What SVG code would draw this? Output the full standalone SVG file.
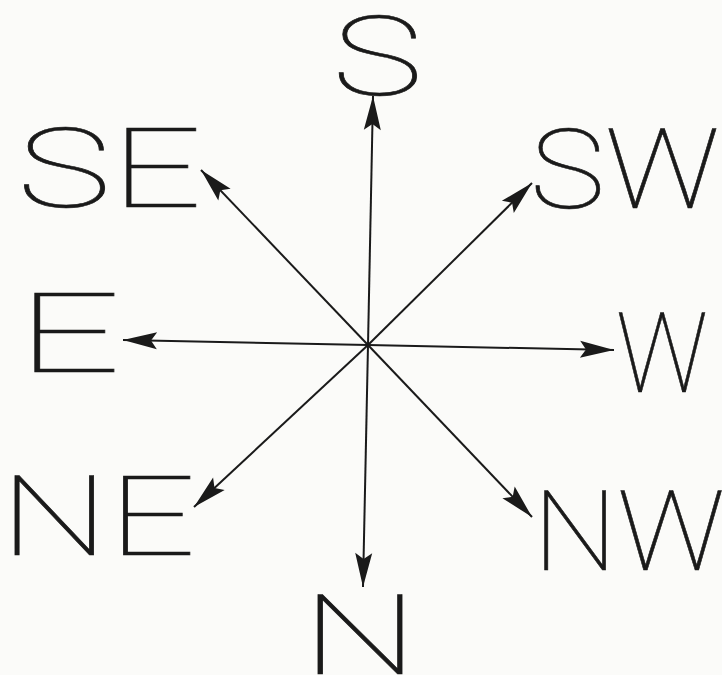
<svg xmlns="http://www.w3.org/2000/svg" width="722" height="675" viewBox="0 0 722 675">
<style>
.lbl{font-family:Roboto,"Liberation Sans",sans-serif;font-weight:100;font-size:112px;fill:#1a1a1a;stroke:#1a1a1a;stroke-width:0.6}
.ln{stroke:#1a1a1a;stroke-width:2;fill:none;marker-end:url(#ah)}
</style>
<defs>
<marker id="ah" markerUnits="userSpaceOnUse" markerWidth="40" markerHeight="22" refX="36" refY="11" orient="auto" overflow="visible">
<path d="M36,11 L2,2.5 L8,11 L2,19.5 Z" fill="#1a1a1a"/>
</marker>
</defs>
<rect width="722" height="675" fill="#fbfbf9"/>
<g id="connectors">
<line class="ln" x1="368" y1="345" x2="373" y2="96"/>
<line class="ln" x1="368" y1="345" x2="363" y2="587"/>
<line class="ln" x1="368" y1="345" x2="123" y2="340"/>
<line class="ln" x1="368" y1="345" x2="614" y2="350"/>
<line class="ln" x1="368" y1="345" x2="201" y2="170"/>
<line class="ln" x1="368" y1="345" x2="532" y2="183"/>
<line class="ln" x1="368" y1="345" x2="194" y2="507"/>
<line class="ln" x1="368" y1="345" x2="532" y2="517"/>
</g>
<g id="S"><text class="lbl" x="332" y="95" textLength="91" lengthAdjust="spacingAndGlyphs">S</text></g>
<g id="SE"><text class="lbl" x="17" y="207" textLength="185" lengthAdjust="spacingAndGlyphs">SE</text></g>
<g id="SW"><text class="lbl" x="530" y="208" textLength="190" lengthAdjust="spacingAndGlyphs">SW</text></g>
<g id="E"><text class="lbl" x="17" y="372" textLength="104" lengthAdjust="spacingAndGlyphs">E</text></g>
<g id="W"><text class="lbl" x="616" y="392" textLength="92" lengthAdjust="spacingAndGlyphs">W</text></g>
<g id="NE"><text class="lbl" x="0" y="555" textLength="196" lengthAdjust="spacingAndGlyphs">NE</text></g>
<g id="NW"><text class="lbl" x="533" y="570" textLength="192" lengthAdjust="spacingAndGlyphs">NW</text></g>
<g id="N"><text class="lbl" x="302" y="674" textLength="116" lengthAdjust="spacingAndGlyphs">N</text></g>
</svg>
